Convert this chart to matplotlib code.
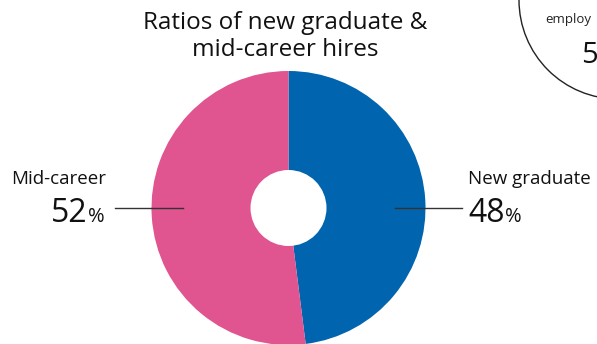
import matplotlib
matplotlib.use("Agg")
import matplotlib.pyplot as plt
from matplotlib.patches import Circle

# Hire mix
categories = ["New graduate", "Mid-career"]
shares = [48, 52]
colors = ["#0064AE", "#E05490"]
title = "Ratios of new graduate &\nmid-career hires"

plt.rcParams["font.family"] = ["Open Sans", "DejaVu Sans"]

W, H = 597, 344
fig = plt.figure(figsize=(W / 100, H / 100), dpi=100)
fig.patch.set_facecolor("white")

# Donut chart, drawn in an axes sized to the pie
cx, cy, r = 288.5, 208, 137
ax = fig.add_axes([(cx - r) / W, 1 - (cy + r) / H, 2 * r / W, 2 * r / H])
ax.pie(shares, colors=colors, startangle=90, counterclock=False,
       radius=1.0, wedgeprops=dict(linewidth=0))
ax.add_patch(Circle((0, 0), 38 / r, facecolor="white", edgecolor="none", zorder=3))
ax.set_xlim(-1, 1)
ax.set_ylim(-1, 1)
ax.set_aspect("equal")
ax.axis("off")

# Overlay axes in pixel coordinates for labels and leader lines
ov = fig.add_axes([0, 0, 1, 1])
ov.set_xlim(0, W)
ov.set_ylim(H, 0)
ov.axis("off")
ov.patch.set_alpha(0)

ov.text(285, 29, title.split("\n")[0], ha="center", va="baseline", fontsize=17.5, color="#111111")
ov.text(285, 56, title.split("\n")[1], ha="center", va="baseline", fontsize=17.5, color="#111111")

# Leader lines
ov.plot([115, 183], [208, 208], color="#333333", lw=1.0)
ov.plot([395, 462], [208, 208], color="#333333", lw=1.0)

# Left label: Mid-career
ov.text(106, 184, categories[1], ha="right", va="baseline", fontsize=13.5, color="#111111")
ov.text(88, 222, f"{shares[1]}", ha="right", va="baseline", fontsize=23, color="#111111")
ov.text(88, 222, "%", ha="left", va="baseline", fontsize=14.5, color="#111111")

# Right label: New graduate
ov.text(468, 184, categories[0], ha="left", va="baseline", fontsize=13.5, color="#111111")
ov.text(468, 222, f"{shares[0]}", ha="left", va="baseline", fontsize=23, color="#111111")
ov.text(505, 222, "%", ha="left", va="baseline", fontsize=14.5, color="#111111")

# Neighbouring callout bubble, cut by the figure edge
ov.add_patch(Circle((618, 0), 99, facecolor="none", edgecolor="#222222", lw=1.0))
ov.text(545, 23, "employ", ha="left", va="baseline", fontsize=9.5, color="#222222")
ov.text(581, 63, "5", ha="left", va="baseline", fontsize=21, color="#111111")

fig.savefig("out.png", dpi=100, facecolor="white")
